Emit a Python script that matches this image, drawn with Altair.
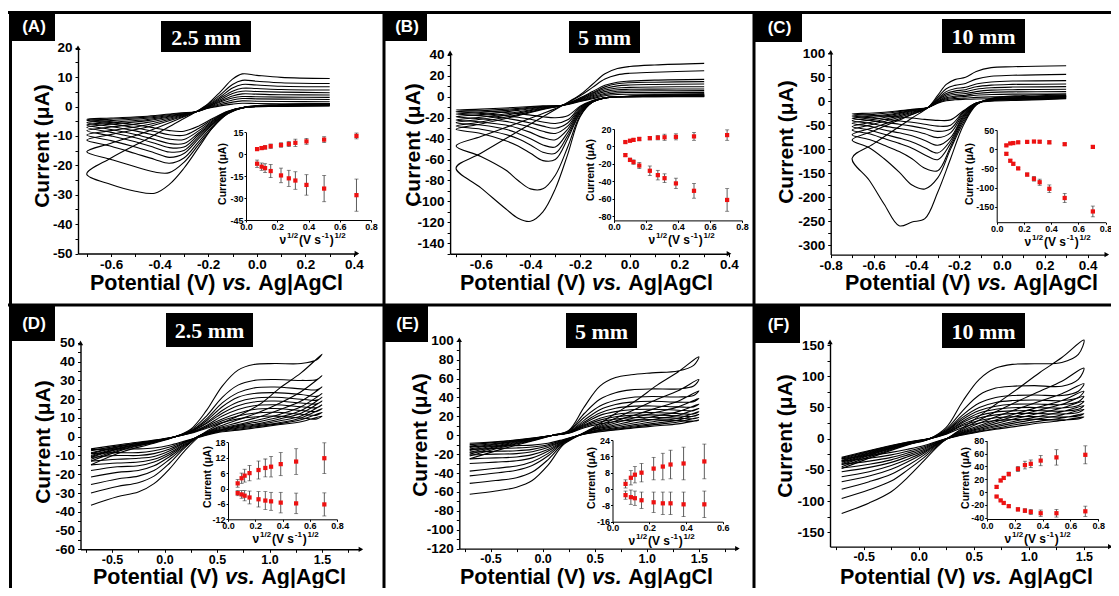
import altair as alt
import pandas as pd

W, H = 1103, 580
M = 8  # page margin: reference pixel -> chart pixel
FONT = 'Liberation Sans'

# ---------------- inset data (peak currents vs sqrt(scan rate)) ----------------
SQRT_V = [0.071, 0.100, 0.122, 0.158, 0.224, 0.274, 0.316, 0.387, 0.500, 0.707]

A_OX = [3.5, 4.2, 4.7, 5.5, 6.3, 7.0, 7.8, 8.8, 10.0, 12.5]
A_OX_ERR = [1.0, 1.0, 1.2, 1.5, 1.5, 1.8, 2.5, 2.0, 2.0, 2.0]
A_RED = [-6.5, -8.5, -9.5, -11.5, -14.5, -16.5, -18.0, -21.0, -23.5, -28.0]
A_RED_ERR = [2.5, 2.5, 3.0, 4.5, 5.0, 5.5, 6.0, 7.0, 9.0, 11.0]

B_OX = [5.0, 6.5, 7.5, 8.5, 9.5, 10.0, 10.5, 11.0, 11.5, 13.0]
B_OX_ERR = [1.0, 1.0, 1.5, 2.0, 2.0, 2.5, 3.5, 3.5, 4.5, 6.0]
B_RED = [-10.0, -15.5, -18.0, -22.0, -28.0, -33.0, -36.5, -42.5, -51.0, -61.5]
B_RED_ERR = [1.5, 2.0, 2.5, 3.5, 5.5, 5.5, 5.0, 6.0, 8.5, 13.0]

C_OX = [10, 15, 16, 18, 19, 20, 19.5, 18, 13, 6]
C_OX_ERR = [2, 2, 2, 2, 2, 3, 3, 4, 3, 3]
C_RED = [-12, -30, -38, -50, -66, -77, -86, -103, -127, -162]
C_RED_ERR = [3, 3, 3, 3, 4, 6, 8, 10, 12, 14]

D_OX = [2.0, 4.0, 5.0, 6.0, 7.2, 8.0, 8.5, 9.5, 10.5, 11.8]
D_OX_ERR = [1.5, 2.0, 2.5, 3.0, 3.5, 3.5, 4.0, 4.5, 5.0, 6.0]
D_RED = [-1.8, -2.3, -2.8, -3.5, -4.2, -4.7, -5.0, -5.5, -5.8, -6.2]
D_RED_ERR = [1.0, 1.5, 2.0, 2.5, 3.0, 3.5, 3.5, 4.0, 4.0, 4.5]

E_OX = [2.5, 5.5, 7.0, 8.0, 10.0, 11.0, 12.0, 12.5, 13.5]
E_OX_ERR = [2.0, 3.5, 4.0, 4.5, 5.5, 6.5, 7.0, 8.0, 8.5]
E_RED = [-3.0, -4.0, -4.5, -5.5, -6.5, -7.0, -7.0, -7.5, -7.5]
E_RED_ERR = [2.0, 3.5, 3.5, 4.0, 5.0, 5.5, 5.5, 6.0, 6.5]

F_OX = [8, 18, 22, 28, 36, 42, 44, 49, 54, 58]
F_OX_ERR = [2, 2, 2, 3, 4, 6, 6, 8, 12, 14]
F_RED = [-7, -13, -17, -22, -27, -29, -31, -33, -33, -30]
F_RED_ERR = [1, 1, 1.5, 2, 2.5, 3, 4, 5, 6, 8]

# ---------------- CV curves (A-C: 0.3 -> -0.7 -> 0.3 V) ----------------
A_E1 = [0.3, 0.1, -0.05, -0.12, -0.18, -0.24, -0.3, -0.36, -0.42, -0.5, -0.6, -0.7]
A_I1 = [
    [0.2, 0.0, -0.3, -1.6, -4.0, -6.7, -8.4, -8.2, -7.3, -6.2, -5.2, -4.3],
    [0.3, 0.1, -0.3, -1.7, -4.3, -7.5, -9.8, -9.6, -8.5, -7.2, -5.9, -4.8],
    [0.4, 0.2, -0.3, -1.8, -4.7, -8.3, -11.2, -11.1, -9.8, -8.3, -6.8, -5.5],
    [0.5, 0.3, -0.3, -1.9, -5.0, -9.0, -12.6, -12.6, -11.2, -9.5, -7.8, -6.3],
    [0.6, 0.3, -0.3, -2.0, -5.4, -9.6, -13.8, -14.0, -12.5, -10.6, -8.8, -7.1],
    [0.7, 0.4, -0.3, -2.1, -5.7, -10.3, -15.0, -15.5, -14.0, -12.0, -10.0, -8.2],
    [0.8, 0.4, -0.3, -2.2, -6.0, -11.0, -16.0, -17.3, -15.8, -13.8, -11.6, -9.7],
    [0.9, 0.5, -0.3, -2.3, -6.5, -12.0, -17.5, -19.3, -18.0, -16.0, -13.5, -11.4],
    [1.0, 0.6, -0.3, -2.5, -7.0, -13.0, -19.0, -22.5, -22.3, -20.5, -18.0, -15.4],
    [1.0, 0.6, -0.2, -2.5, -7.0, -14.0, -21.0, -26.5, -29.5, -28.8, -26.5, -23.0],
]
A_E2 = [-0.6, -0.45, -0.32, -0.25, -0.2, -0.15, -0.1, -0.06, 0.0, 0.1, 0.3]
A_I2 = [
    [-3.9, -3.3, -2.2, -1.8, -0.6, 0.2, 0.8, 1.1, 1.0, 0.9, 0.9],
    [-4.3, -3.6, -2.4, -1.8, -0.5, 0.6, 1.5, 1.9, 1.8, 1.7, 1.6],
    [-4.8, -4.0, -2.6, -1.8, -0.3, 1.0, 2.2, 2.7, 2.6, 2.5, 2.4],
    [-5.4, -4.4, -2.8, -1.8, -0.2, 1.5, 2.9, 3.4, 3.3, 3.2, 3.1],
    [-6.0, -4.8, -3.0, -1.8, 0.0, 1.9, 3.6, 4.3, 4.2, 4.0, 3.9],
    [-7.0, -5.4, -3.2, -1.8, 0.1, 2.3, 4.4, 5.2, 5.1, 4.9, 4.7],
    [-8.2, -6.2, -3.5, -1.8, 0.3, 2.8, 5.2, 6.2, 6.1, 5.8, 5.6],
    [-9.5, -7.0, -3.8, -1.8, 0.5, 3.3, 6.3, 7.5, 7.3, 6.9, 6.7],
    [-12.5, -8.5, -4.2, -1.8, 0.8, 4.0, 7.5, 8.9, 8.6, 8.1, 7.8],
    [-17.5, -11.0, -5.0, -1.8, 1.0, 5.0, 9.3, 11.1, 10.6, 9.9, 9.5],
]

B_E1 = [0.3, 0.1, -0.05, -0.1, -0.15, -0.2, -0.25, -0.3, -0.35, -0.4, -0.45, -0.5, -0.6, -0.7]
B_I1 = [
    [0.2, 0.1, -0.2, -1, -3.5, -9, -18, -20, -19, -17.5, -16, -15, -13.5, -12.6],
    [0.4, 0.2, 0, -1, -4, -10, -22, -25.5, -24, -21.5, -19.5, -18, -15.8, -14.2],
    [0.6, 0.4, 0, -1, -4, -11, -25, -30, -28, -25, -22.5, -20.5, -18, -16.4],
    [0.8, 0.5, 0, -1, -4.5, -12, -28, -35, -33, -29, -26, -23.5, -21, -19],
    [1, 0.6, 0, -1, -4.5, -13, -31, -41, -39, -34, -30, -27, -24, -22.1],
    [1.2, 0.8, 0, -1, -5, -14, -34, -48, -46, -40, -35, -31, -27, -24.7],
    [1.5, 1, 0, -1, -5, -15, -37, -54, -53, -46, -40, -36, -31, -28],
    [2, 1, 0, -1, -5, -16, -40, -60, -61, -54, -47, -42, -35, -31],
    [2.5, 1.5, 0, -1, -5, -18, -48, -75, -88, -88, -80, -70, -57, -47],
    [3, 2, 0, -1, -5, -19, -55, -88, -110, -119, -116, -107, -87, -68],
]
B_E2 = [-0.6, -0.45, -0.35, -0.27, -0.2, -0.15, -0.1, -0.05, 0.0, 0.1, 0.3]
B_I2 = [
    [-11.8, -10, -8.7, -8, -4.5, -1.8, 1, 2.2, 2.5, 2.6, 2.7],
    [-13.3, -11, -9, -8, -4, -1, 2.3, 3.8, 4.1, 4.2, 4.3],
    [-15, -12, -9.5, -8, -3.5, 0, 3.5, 5.3, 5.6, 5.8, 5.9],
    [-17, -13, -10, -8, -3, 1, 5, 6.8, 7.2, 7.4, 7.5],
    [-19.5, -14.5, -10.5, -8, -2.5, 2, 6.5, 8.5, 9, 9.4, 9.7],
    [-21.5, -15.5, -11, -8, -2, 3, 8, 10.5, 11.3, 11.8, 12.3],
    [-24, -17, -11.5, -8, -1.5, 4, 9.5, 12.5, 13.5, 14, 14.5],
    [-26, -18, -12, -8, -1, 5, 11, 14, 15, 16, 16.7],
    [-38, -25, -16, -8, 1, 9, 17, 21, 22.5, 23.5, 25],
    [-54, -33, -19, -8, 2, 12, 22, 27, 29, 30.5, 32],
]

C_E1 = [0.3, 0.1, -0.05, -0.12, -0.18, -0.24, -0.3, -0.36, -0.42, -0.48, -0.55, -0.62, -0.7]
C_I1 = [
    [5, 2, 0, -4, -20, -39, -40, -38, -35, -33, -31, -29, -26.7],
    [6, 3, 1, -4, -22, -50, -52, -48, -44, -41, -38, -34, -30.8],
    [7, 4, 2, -4, -24, -58, -63, -57, -52, -48, -44, -40, -35.7],
    [8, 5, 2, -5, -27, -66, -76, -68, -61, -57, -52, -46, -40.6],
    [9, 6, 3, -5, -30, -76, -92, -82, -72, -66, -60, -52, -46],
    [10, 7, 3, -6, -33, -82, -108, -97, -85, -77, -69, -60, -53],
    [11, 8, 4, -6, -36, -88, -122, -112, -98, -88, -78, -68, -60],
    [12, 9, 4, -7, -40, -95, -145, -140, -120, -105, -92, -80, -70],
    [13, 10, 5, -7, -45, -100, -160, -183, -175, -148, -120, -97, -81],
    [15, 12, 6, -8, -50, -120, -190, -245, -252, -260, -215, -165, -119],
]
C_E2 = [-0.6, -0.5, -0.42, -0.345, -0.3, -0.26, -0.22, -0.17, -0.12, -0.05, 0.05, 0.3]
C_I2 = [
    [-24.5, -21, -17, -13, -4, 1, 3, 4, 4.7, 5, 5.2, 5.3],
    [-27.5, -23, -18, -13, -3, 3, 5.5, 6.5, 8, 9, 9.3, 9.5],
    [-31, -25.5, -19, -13, -2, 5, 8, 10, 12.5, 14, 14.8, 15.1],
    [-34, -27.5, -20, -13, -1, 7, 10.5, 12.5, 16, 18.5, 19.5, 20],
    [-38, -30, -21, -13, 0, 10, 14, 16, 20, 23, 24, 25],
    [-43, -33, -23, -13, 2, 13, 17.5, 20, 25, 28, 29.5, 30.5],
    [-48, -36, -25, -13, 3, 16, 21, 24, 30, 33.5, 35, 36],
    [-55, -40, -27, -13, 5, 20, 26, 29, 36, 40, 42, 43],
    [-62, -43, -28, -13, 8, 26, 33, 37, 46, 52, 54, 56],
    [-89, -59, -35, -13, 12, 35, 45, 50, 62, 70, 72, 74],
]

# ---------------- CV curves (D-F: -0.7 -> 1.5 -> -0.7 V) ----------------
DEF_E1 = [-0.7, -0.4, -0.1, 0.1, 0.25, 0.4, 0.55, 0.7, 0.85, 1.05, 1.3, 1.45, 1.5]
DEF_E2 = [1.3, 1.1, 0.9, 0.7, 0.5, 0.35, 0.2, 0.05, -0.1, -0.25, -0.45, -0.7]

D_I1 = [
    [-6.5, -4, -1.8, 0, 1.8, 4.5, 7.5, 9.5, 10.5, 11, 10, 9.5, 11],
    [-7.5, -4.5, -2, 0, 2, 5, 8.5, 11, 12.5, 13, 12, 11.5, 13],
    [-8.5, -4.8, -2.2, 0, 2.2, 5.5, 9.5, 12.5, 14.5, 15, 14, 13.5, 15],
    [-9, -5, -2.3, 0, 2.4, 6, 11, 14.5, 16.5, 17, 16, 15.5, 17],
    [-10, -5.5, -2.5, 0, 2.6, 7, 12.5, 16.5, 18.5, 19, 18, 17.5, 19],
    [-10.5, -5.8, -2.6, 0, 2.8, 7.5, 14, 18.5, 20.5, 21, 20, 19.5, 21],
    [-11, -6, -2.8, 0, 3, 8.5, 16, 21, 23, 23.5, 22.5, 21.5, 23],
    [-12, -6.5, -3, 0, 3, 9.5, 18, 23.5, 26, 26.5, 25.5, 25, 26.5],
    [-13, -7, -3, 0, 3.5, 11, 21, 27.5, 30, 30.5, 30, 30.5, 32.5],
    [-15, -8, -3.5, 0, 4, 14, 27, 35.5, 38.5, 39, 39, 41, 44],
]
D_I2 = [
    [8, 6.5, 5, 3.5, 2.2, 0, -2.2, -4.5, -6, -6.5, -6.5, -7],
    [9, 7, 5.5, 4, 2.5, 0.2, -2.5, -5.5, -7.5, -8.5, -8.5, -9],
    [10, 7.5, 6, 4.5, 2.8, 0.4, -2.8, -6.5, -9, -10, -10, -11],
    [11, 8.5, 6.5, 5, 3, 0.6, -3, -7.5, -10.5, -11.5, -12, -13],
    [12.5, 9.5, 7, 5.5, 3.2, 0.8, -3.5, -8.5, -12, -13.5, -14, -15],
    [14, 10.5, 8, 6, 3.5, 1, -4, -9.5, -13.5, -15.5, -16, -18],
    [16, 12, 9, 6.5, 4, 1, -4.5, -10.5, -15.5, -18, -19, -21.5],
    [19, 14.5, 10.5, 7.5, 4.5, 1, -5, -12, -18, -21, -22.5, -25.5],
    [24, 18, 13, 9, 5, 1, -5.5, -14, -21, -24.5, -26.5, -30],
    [34, 26, 17, 11, 6, 1, -7, -17, -25, -29.5, -32, -36.5],
]

E_I1 = [
    [-8.5, -6.5, -3, 0, 2.2, 8, 12, 14.5, 16, 16.5, 15.5, 15, 16],
    [-10, -7, -3.2, 0, 2.4, 9, 14, 17, 18.5, 19, 18, 17.5, 19],
    [-11.5, -8, -3.5, 0, 2.6, 10, 16, 19.5, 21, 21.5, 20.5, 20, 22],
    [-13, -8.5, -3.8, 0, 2.8, 11, 18, 22, 23.5, 24, 23, 22.5, 25],
    [-14.5, -9, -4, 0, 3, 12.5, 21, 25, 27, 27.5, 26.5, 26, 28.5],
    [-16, -10, -4.2, 0, 3.2, 14, 23.5, 28.5, 30.5, 31, 30, 30, 33],
    [-18, -11, -4.5, 0, 3.5, 16, 27, 32.5, 35, 36, 35, 35.5, 39],
    [-20, -12, -5, 0, 4, 19, 31, 37, 40, 41, 40.5, 42, 47],
    [-22, -13, -5.5, 0, 4.5, 23, 38, 45, 48, 49, 49, 52, 59],
    [-25, -15, -6, 0, 5, 30, 52, 61, 64, 66, 68, 74, 83],
]
E_I2 = [
    [12, 10, 8, 5.5, 3, 0, -4.5, -8.5, -10.5, -11, -11.5, -12],
    [14, 11.5, 9, 6, 3.5, 0, -5, -10, -12.5, -13.5, -14, -15],
    [16, 13, 10, 7, 4, 0, -5.5, -11.5, -15, -16.5, -17, -18],
    [18, 15, 11.5, 8, 4.5, 0, -6, -13, -17.5, -19.5, -20, -21],
    [21, 17.5, 13.5, 9.5, 5, 0, -6.5, -15, -20.5, -23, -24, -25],
    [25, 20.5, 16, 11, 6, 0, -7, -17, -24, -27, -28.5, -30],
    [30, 24.5, 19, 13, 6.5, 0, -7.5, -19.5, -28, -32.5, -35, -38],
    [36, 29, 22, 15, 7, 0, -8, -22, -32, -37, -40, -43],
    [47, 38, 28, 18, 8, 0, -9, -26, -39, -45, -48, -51],
    [67, 53, 37, 23, 9, 0, -10, -32, -48, -55, -59, -62.5],
]

F_I1 = [
    [-30, -17, -5.5, 0, 7, 18, 25, 29, 30.5, 31, 30, 31.5, 35],
    [-31.5, -18, -6, 0, 8, 21, 29, 33.5, 35, 35.5, 34.5, 36.5, 40],
    [-33, -19, -6.5, 0, 9, 23, 33, 38, 40, 40.5, 39.5, 42, 47],
    [-35, -20, -7, 0, 9.5, 26, 37, 42.5, 44.5, 45, 44, 47, 53],
    [-36, -21, -7.5, 0, 10, 28, 41, 47, 49.5, 50, 49, 53, 60],
    [-38, -22, -8, 0, 11, 31, 45, 52, 55, 55.5, 54.5, 59, 68],
    [-40, -23, -8.5, 0, 12, 34, 50, 58, 61, 62, 61, 66, 76],
    [-42, -24, -9, 0, 13, 38, 57, 66, 69, 70, 69, 76, 88],
    [-45, -26, -9.5, 0, 15, 45, 70, 81, 84, 85, 84, 95, 113],
    [-48, -28, -10, 0, 18, 60, 95, 113, 119, 120, 122, 135, 158],
]
F_I2 = [
    [29, 25, 20, 15, 9, 4, -2.5, -11, -17, -22, -27, -32],
    [33, 28, 23, 16.5, 10, 4.5, -3, -13, -20, -26, -31.5, -36],
    [38, 32, 26, 19, 11, 5, -3.5, -15, -23, -30, -36, -41],
    [43, 36, 29, 21, 12.5, 5.5, -4, -17, -26, -34, -41, -47],
    [49, 41, 33, 24, 14, 6, -4.5, -19, -29, -38, -46, -53],
    [55, 46, 37, 27, 16, 7, -5, -21, -33, -43, -53, -61],
    [61, 51, 41, 30, 18, 8, -5.5, -23, -37, -49, -60, -69],
    [72, 60, 48, 35, 21, 9, -6, -26, -43, -57, -69, -81],
    [92, 76, 60, 43, 25, 10, -7, -30, -50, -68, -82, -96],
    [130, 106, 80, 55, 30, 11, -8, -35, -62, -85, -103, -120],
]

TITLES = {'A': '2.5 mm', 'B': '5 mm', 'C': '10 mm', 'D': '2.5 mm', 'E': '5 mm', 'F': '10 mm'}


# ---------------- tables ----------------
def cv_rows(panel, e1, i1, e2, i2):
    rows = []
    for c in range(len(i1)):
        pts = list(zip(e1, i1[c])) + list(zip(e2, i2[c]))
        for k, (e, i) in enumerate(pts):
            rows.append(dict(panel=panel, curve=c, k=k, E=e, I=i))
    return rows


CV = pd.DataFrame(
    cv_rows('A', A_E1, A_I1, A_E2, A_I2) + cv_rows('B', B_E1, B_I1, B_E2, B_I2)
    + cv_rows('C', C_E1, C_I1, C_E2, C_I2) + cv_rows('D', DEF_E1, D_I1, DEF_E2, D_I2)
    + cv_rows('E', DEF_E1, E_I1, DEF_E2, E_I2) + cv_rows('F', DEF_E1, F_I1, DEF_E2, F_I2))


def ins_rows(panel, ox, oxe, red, rede):
    rows = []
    for v, i, e in zip(SQRT_V, ox, oxe):
        rows.append(dict(panel=panel, v=v, I=i, lo=i - e, hi=i + e))
    for v, i, e in zip(SQRT_V, red, rede):
        rows.append(dict(panel=panel, v=v, I=i, lo=i - e, hi=i + e))
    return rows


INS = pd.DataFrame(
    ins_rows('A', A_OX, A_OX_ERR, A_RED, A_RED_ERR) + ins_rows('B', B_OX, B_OX_ERR, B_RED, B_RED_ERR)
    + ins_rows('C', C_OX, C_OX_ERR, C_RED, C_RED_ERR) + ins_rows('D', D_OX, D_OX_ERR, D_RED, D_RED_ERR)
    + ins_rows('E', E_OX, E_OX_ERR, E_RED, E_RED_ERR) + ins_rows('F', F_OX, F_OX_ERR, F_RED, F_RED_ERR))


def ticks(a, b, s):
    n = int(round((b - a) / s))
    return [round(a + i * s, 6) for i in range(n + 1)]


# ---------------- layout (reference pixel positions) ----------------
MAIN = {
    'A': dict(xd=[-0.736, 0.412], xr=[78.0, 356.9], yd=[-50, 20], yr=[253.5, 47.7],
              xt=ticks(-0.7, 0.4, 0.1), xm=0.2, yt=ticks(-50, 20, 5), ym=10, lf=13.5),
    'B': dict(xd=[-0.724, 0.40], xr=[450.1, 729.0], yd=[-150, 42], yr=[253.7, 52.9],
              xt=ticks(-0.7, 0.4, 0.1), xm=0.2, yt=ticks(-150, 40, 10), ym=20, lf=13.5),
    'C': dict(xd=[-0.8, 0.49], xr=[830.7, 1106.8], yd=[-320, 102], yr=[254.6, 52.3],
              xt=ticks(-0.8, 0.4, 0.1), xm=0.2, yt=ticks(-300, 100, 25), ym=50, lf=13.5),
    'D': dict(xd=[-0.8, 1.87], xr=[80.5, 360.9], yd=[-60, 50], yr=[549.3, 342.9],
              xt=ticks(-0.75, 1.75, 0.25), xm=0.5, yt=ticks(-60, 50, 5), ym=10, lf=12.5),
    'E': dict(xd=[-0.8, 1.87], xr=[459.3, 737.4], yd=[-120, 101], yr=[548.6, 339.8],
              xt=ticks(-0.75, 1.75, 0.25), xm=0.5, yt=ticks(-120, 100, 10), ym=20, lf=12.5),
    'F': dict(xd=[-0.806, 1.74], xr=[830.0, 1110.3], yd=[-173, 155], yr=[546.6, 341.9],
              xt=ticks(-0.75, 1.5, 0.25), xm=0.5, yt=ticks(-150, 150, 25), ym=50, lf=12.5),
}
INSET = {
    'A': dict(xd=[0, 0.8], xr=[246, 371], yd=[-45, 15], yr=[220, 132.3],
              xt=ticks(0, 0.8, 0.2), yt=ticks(-45, 15, 15), tx=313, yx=223, yy=174),
    'B': dict(xd=[0, 0.8], xr=[614, 742], yd=[-85, 20], yr=[220.4, 129],
              xt=ticks(0, 0.8, 0.2), yt=ticks(-80, 20, 20), tx=682, yx=591, yy=170),
    'C': dict(xd=[0, 0.8], xr=[996.7, 1105.5], yd=[-190, 50], yr=[222.2, 130],
              xt=ticks(0, 0.8, 0.2), yt=ticks(-150, 50, 50), tx=1058, yx=970, yy=174),
    'D': dict(xd=[0, 0.8], xr=[228, 337], yd=[-12, 18], yr=[519.3, 442.3],
              xt=ticks(0, 0.8, 0.2), yt=ticks(-12, 18, 6), tx=286, yx=208, yy=477),
    'E': dict(xd=[0, 0.6], xr=[612.5, 722.7], yd=[-16, 24], yr=[521.7, 440],
              xt=ticks(0, 0.6, 0.2), yt=ticks(-16, 24, 8), tx=662, yx=592, yy=478),
    'F': dict(xd=[0, 0.8], xr=[986.7, 1098.3], yd=[-42, 80], yr=[519, 440.7],
              xt=ticks(0, 0.8, 0.2), yt=ticks(-40, 80, 20), tx=1038, yx=966, yy=478),
}
DECOR = {
    'A': dict(lab=(11, 55, 13, 41), tit=(161, 251, 21, 52), yt=(43, 146), xt=(90, 284)),
    'B': dict(lab=(385, 427, 13, 41), tit=(569, 640, 21, 53), yt=(414, 145), xt=(460, 284)),
    'C': dict(lab=(755, 802, 13, 42), tit=(942, 1025, 19, 53), yt=(787, 142), xt=(845, 284)),
    'D': dict(lab=(11, 55, 306, 341), tit=(166, 253, 313, 347), yt=(44, 442), xt=(93, 578)),
    'E': dict(lab=(385, 428, 306, 342), tit=(566, 637, 313, 348), yt=(421, 435), xt=(460, 578)),
    'F': dict(lab=(755, 800, 306, 343), tit=(942, 1025, 313, 348), yt=(786, 436), xt=(840, 578)),
}

ARROWS = pd.DataFrame(
    [dict(panel=p, kind='y', E=L['xd'][0], I=L['yd'][1]) for p, L in MAIN.items()]
    + [dict(panel=p, kind='x', E=L['xd'][1], I=L['yd'][0]) for p, L in MAIN.items()])


def lab_expr(step, dec):
    return (f"abs(datum.value/{step} - round(datum.value/{step})) < 1e-6 ? "
            f"((datum.value < -1e-9 ? '-' : '') + format(abs(datum.value), '.{dec}f')) : ''")


def axis(**kw):
    base = dict(grid=False, title='', domainColor='black', tickColor='black', labelColor='black',
                labelFont=FONT, labelFontWeight='bold', labelOverlap=False, labelFlush=False)
    base.update(kw)
    return alt.Axis(**base)


def main_layer(p):
    L = MAIN[p]
    xs = alt.Scale(domain=L['xd'], range=[L['xr'][0] - M, L['xr'][1] - M], nice=False, zero=False)
    ys = alt.Scale(domain=L['yd'], range=[L['yr'][0] - M, L['yr'][1] - M], nice=False, zero=False)
    xa = axis(orient='bottom', offset=(L['yr'][0] - M) - H, values=L['xt'], labelExpr=lab_expr(L['xm'], 1),
              domainWidth=1.4, tickSize=3, tickWidth=1, labelFontSize=L['lf'], labelPadding=1)
    ya = axis(orient='left', offset=-(L['xr'][0] - M), values=L['yt'], labelExpr=lab_expr(L['ym'], 0),
              domainWidth=1.4, tickSize=3, tickWidth=1, labelFontSize=13.5, labelPadding=3)
    X = alt.X('E:Q', scale=xs, axis=xa)
    Y = alt.Y('I:Q', scale=ys, axis=ya)
    lines = alt.Chart(CV).transform_filter(alt.datum.panel == p).mark_line(
        color='black', strokeWidth=1.1, interpolate='catmull-rom').encode(
        x=X, y=Y, detail='curve:N', order='k:Q')
    arr = alt.Chart(ARROWS).transform_filter(alt.datum.panel == p)
    up = arr.transform_filter(alt.datum.kind == 'y').mark_point(
        shape='triangle-up', filled=True, color='black', size=28, opacity=1).encode(x=X, y=Y)
    rt = arr.transform_filter(alt.datum.kind == 'x').mark_point(
        shape='triangle-right', filled=True, color='black', size=28, opacity=1).encode(x=X, y=Y)
    return alt.layer(lines, up, rt)


def inset_layer(p):
    L = INSET[p]
    xs = alt.Scale(domain=L['xd'], range=[L['xr'][0] - M, L['xr'][1] - M], nice=False, zero=False)
    ys = alt.Scale(domain=L['yd'], range=[L['yr'][0] - M, L['yr'][1] - M], nice=False, zero=False)
    xa = axis(orient='bottom', offset=(L['yr'][0] - M) - H, values=L['xt'], labelExpr=lab_expr(0.1, 1),
              domainWidth=1, tickSize=2, tickWidth=1, labelFontSize=9, labelPadding=0)
    ya = axis(orient='left', offset=-(L['xr'][0] - M), values=L['yt'], labelExpr=lab_expr(1, 0),
              domainWidth=1, tickSize=2, tickWidth=1, labelFontSize=9, labelPadding=1)
    X = alt.X('v:Q', scale=xs, axis=xa)
    base = alt.Chart(INS).transform_filter(alt.datum.panel == p)
    bars = base.mark_rule(color='#333333', strokeWidth=0.8).encode(
        x=X, y=alt.Y('lo:Q', scale=ys, axis=ya), y2='hi:Q')
    cap_lo = base.mark_tick(orient='horizontal', color='#333333', size=4, thickness=0.8).encode(
        x=X, y=alt.Y('lo:Q', scale=ys, axis=ya))
    cap_hi = base.mark_tick(orient='horizontal', color='#333333', size=4, thickness=0.8).encode(
        x=X, y=alt.Y('hi:Q', scale=ys, axis=ya))
    pts = base.mark_square(color='#ee1111', size=18, opacity=1).encode(
        x=X, y=alt.Y('I:Q', scale=ys, axis=ya))
    return alt.layer(bars, cap_lo, cap_hi, pts)


ONE = pd.DataFrame({'o': [0]})


def text(t, x, y, size, color='black', font=FONT, weight='bold', style=None, align='center', angle=None):
    kw = dict(text=t, fontSize=size, color=color, font=font, fontWeight=weight, align=align, baseline='middle')
    if style:
        kw['fontStyle'] = style
    if angle is not None:
        kw['angle'] = angle
    return alt.Chart(ONE).mark_text(**kw).encode(x=alt.value(x - M), y=alt.value(y - M))


def rect(x0, x1, y0, y1, color='black'):
    return alt.Chart(ONE).mark_rect(color=color).encode(
        x=alt.value(x0 - M), x2=alt.value(x1 - M), y=alt.value(y0 - M), y2=alt.value(y1 - M))


CW = {'P': .667, 'o': .611, 't': .333, 'e': .556, 'n': .611, 'i': .278, 'a': .556, 'l': .278, ' ': .278,
      '(': .333, ')': .333, 'V': .667, 'v': .556, 's': .556, '.': .278, 'A': .722, 'g': .611, '|': .280,
      'C': .722, 'u': .611, 'r': .389, 'ν': .556, '1': .556, '/': .278, '2': .556, '-': .333}


def tw(s, size):
    return sum(CW.get(c, 0.6) for c in s) * size


def x_title(x0, y, size=21.5):
    p1, p2, p3 = 'Potential (V)', 'vs.', 'Ag|AgCl'
    sp = 0.3 * size
    x2 = x0 + tw(p1, size) + sp
    x3 = x2 + tw(p2, size) + sp
    return [text(p1, x0, y, size, align='left'), text(p2, x2, y, size, style='italic', align='left'),
            text(p3, x3, y, size, align='left')]


def inset_x_title(cx, y):
    parts = [('ν', 12, 0), ('1/2', 8, -4), ('(V s', 12, 0), ('-1', 8, -4), (')', 12, 0), ('1/2', 8, -4)]
    total = sum(tw(s, f) for s, f, _ in parts) + 0.8 * len(parts)
    x = cx - total / 2
    out = []
    for s, f, dy in parts:
        out.append(text(s, x, y + dy, f, align='left'))
        x += tw(s, f) + 0.8
    return out


layers = []
# panel borders
layers += [rect(8, 1119, 11, 14), rect(8, 1119, 303.5, 306.5), rect(9, 12, 11, 596),
           rect(382.5, 385.5, 11, 596), rect(752.5, 755.5, 11, 596)]

for p in ['A', 'B', 'C', 'D', 'E', 'F']:
    layers.append(main_layer(p))
    layers.append(inset_layer(p))
    D = DECOR[p]
    lx0, lx1, ly0, ly1 = D['lab']
    layers.append(rect(lx0, lx1, ly0, ly1))
    layers.append(text(f'({p})', (lx0 + lx1) / 2 + 1, (ly0 + ly1) / 2, 17, color='white'))
    tx0, tx1, ty0, ty1 = D['tit']
    layers.append(rect(tx0, tx1, ty0, ty1))
    layers.append(text(TITLES[p], (tx0 + tx1) / 2, (ty0 + ty1) / 2 + 1, 22, color='white',
                       font='Liberation Serif'))
    layers.append(text('Current (μA)', D['yt'][0], D['yt'][1], 21, angle=270))
    layers += x_title(D['xt'][0], D['xt'][1])
    I = INSET[p]
    layers.append(text('Current (μA)', I['yx'], I['yy'], 10.5, angle=270))
    layers += inset_x_title(I['tx'], I['yr'][0] + 19.5)

chart = alt.layer(*layers).resolve_scale(
    x='independent', y='independent').resolve_axis(
    x='independent', y='independent').properties(
    width=W, height=H, autosize=alt.AutoSizeParams(type='none'), padding=0).configure_view(strokeWidth=0)

chart.save("out.html", embed_options={"renderer": "svg", "actions": False})
